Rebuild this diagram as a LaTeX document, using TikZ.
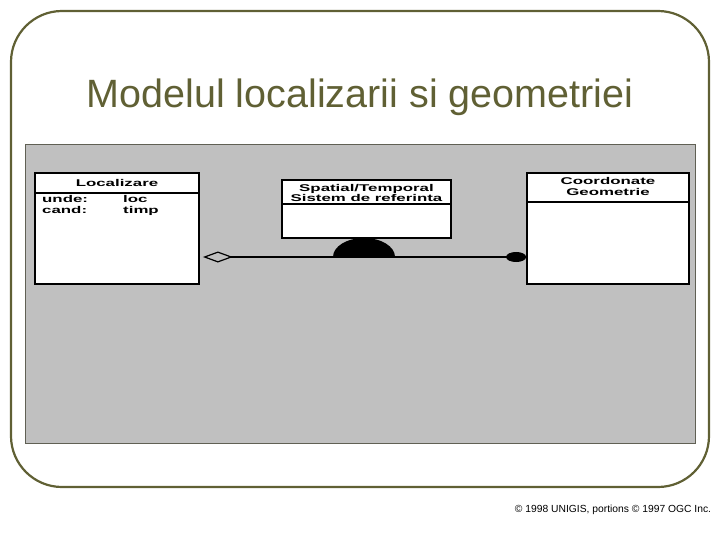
\documentclass[tikz,border=0pt]{standalone}
\usepackage{fontspec}
\usepackage{tikz}
\usepackage{xcolor}
\usetikzlibrary{arrows.meta}

\setmainfont{Liberation Sans}
\newfontfamily\umlfont[FakeStretch=1.72]{Liberation Sans Bold}

\definecolor{frameolive}{RGB}{96,96,52}
\definecolor{panelgray}{RGB}{192,192,192}
\definecolor{paneledge}{RGB}{96,96,84}

\begin{document}
\begin{tikzpicture}[x=1pt, y=-1pt,
  classbox/.style={draw, line width=1.8pt, fill=white, rectangle, inner sep=0pt},
  umltext/.style={font=\umlfont\fontsize{9.8}{10.3}\selectfont, inner sep=0pt, align=center},
  assoc/.style={line width=1.2pt, shorten <=3pt,
    {Diamond[open, length=30pt, width=11pt]}-{Ellipse[length=20pt, width=10pt]}}]
\useasboundingbox (0,0) rectangle (720,540);

% slide frame and title
\draw[frameolive, line width=2.2pt, rounded corners=51pt] (11,11) rectangle (709,487);
\node[text=frameolive, font=\fontsize{39.5}{40}\selectfont, anchor=base] (title) at (360,108) {Modelul localizarii si geometriei};

% gray panel
\draw[paneledge, fill=panelgray, line width=0.8pt] (25,144) rectangle (695,443);

% classes
\node[classbox, minimum width=164, minimum height=111] (loc) at (117,228.5) {};
\node[classbox, minimum width=169, minimum height=58] (sys) at (366.5,209) {};
\node[classbox, minimum width=162, minimum height=111] (geo) at (608,228.5) {};

\draw[line width=1.8pt] (35,193) -- (199,193);
\draw[line width=1.8pt] (282,204) -- (451,204);
\draw[line width=1.8pt] (527,202) -- (689,202);

\node[umltext] (locname) at (117,183) {Localizare};
\node[umltext] (sysname) at (366.5,193) {Spatial/Temporal\\Sistem de referinta};
\node[umltext] (geoname) at (608,186.5) {Coordonate\\Geometrie};

\node[umltext, anchor=base west] (unde) at (42,203) {unde:};
\node[umltext, anchor=base west] (cand) at (42,214) {cand:};
\node[umltext, anchor=base west] (locval) at (123,203) {loc};
\node[umltext, anchor=base west] (timp) at (123,214) {timp};

% association
\draw[assoc] ([yshift=-28.5pt]loc.east) -- ([yshift=-28.5pt]geo.west);
\fill (333,257) arc[start angle=180, end angle=0, x radius=31pt, y radius=19pt] -- cycle;

% footer
\node[font=\fontsize{10.3}{11}\selectfont, anchor=base] (copy) at (613,512) {© 1998 UNIGIS, portions © 1997 OGC Inc.};
\end{tikzpicture}
\end{document}
